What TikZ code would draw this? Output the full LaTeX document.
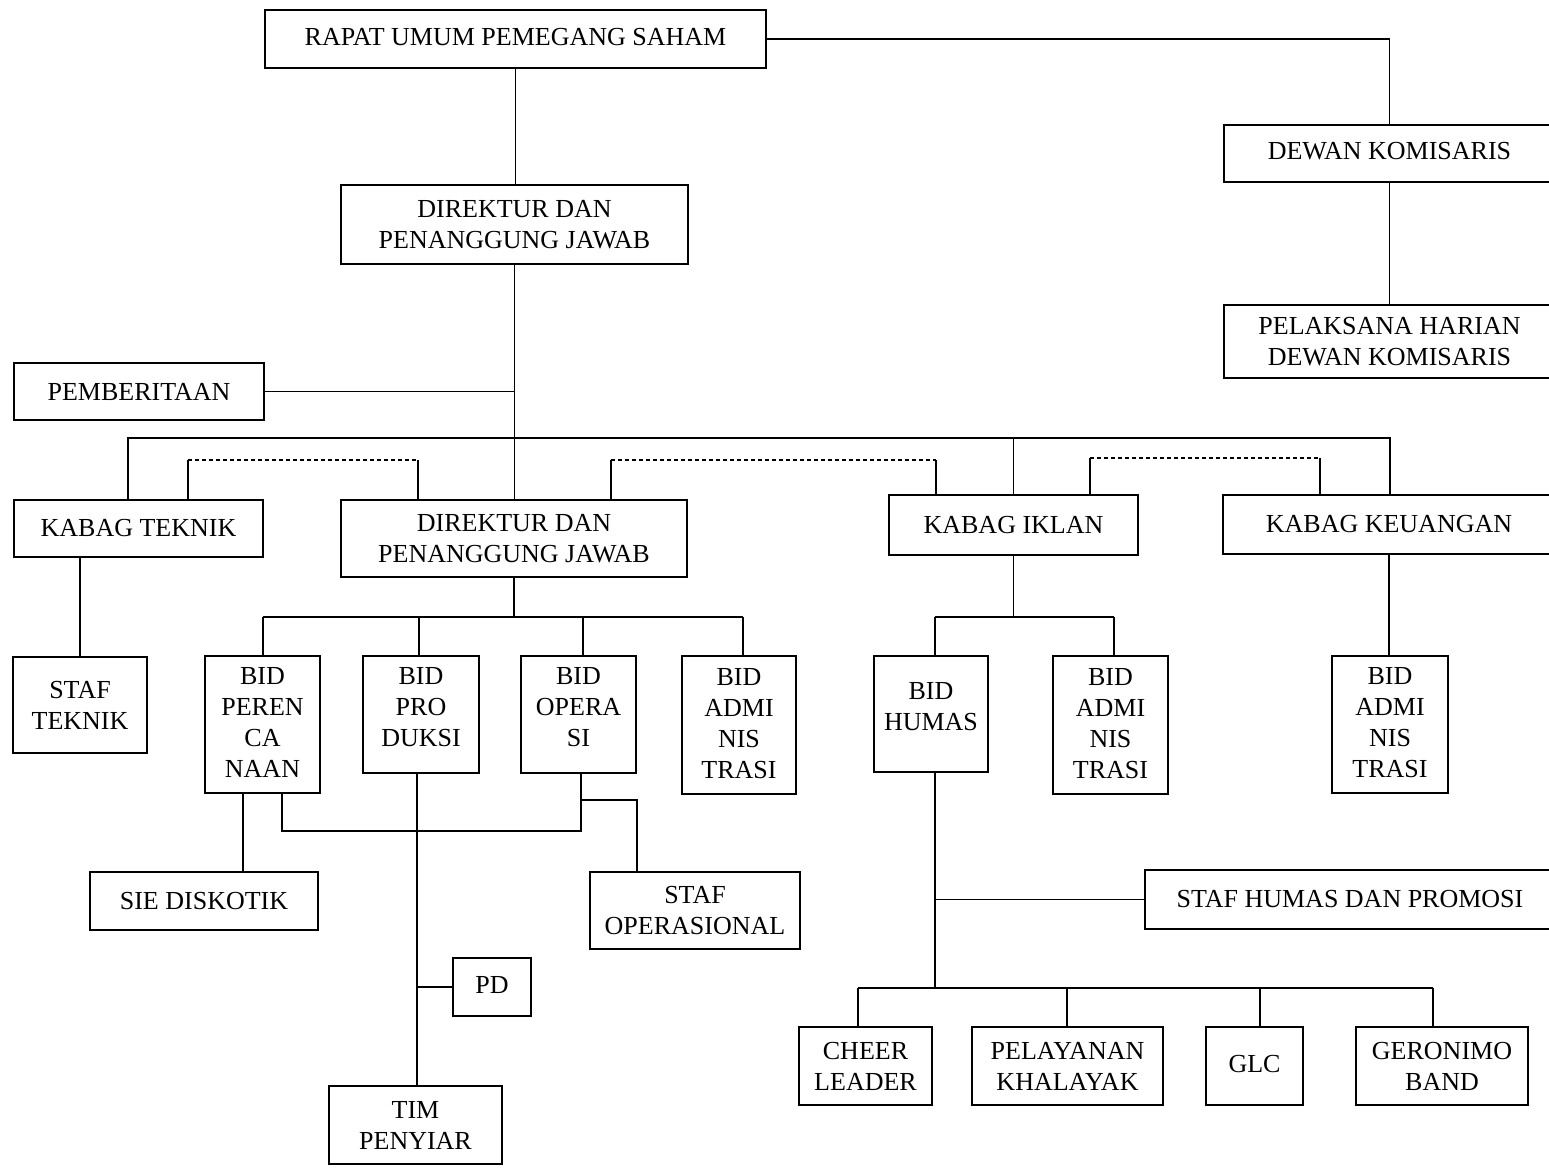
\documentclass[tikz,border=0pt]{standalone}
\usepackage{fontspec}
\setmainfont{Liberation Serif}
\newcommand{\orgfont}{\fontsize{26}{31}\selectfont}
\begin{document}
\begin{tikzpicture}[x=1pt,y=-1pt,
  box/.style={draw, line width=1.4pt, align=center, inner sep=0pt, font=\orgfont},
  raised/.style={text depth=16pt},
  link/.style={line width=1.1pt},
  dlink/.style={line width=1.1pt, dash pattern=on 4pt off 3pt}]
\useasboundingbox (0,0) rectangle (1549,1169);
% boxes
\node[box, minimum width=501, minimum height=58, text depth=4pt] (rups) at (515.5,39) {RAPAT UMUM PEMEGANG SAHAM};
\node[box, minimum width=331, minimum height=57, text depth=5pt] (dk) at (1389.5,153.5) {DEWAN KOMISARIS};
\node[box, minimum width=347, minimum height=79] (dir1) at (514.5,224.5) {DIREKTUR DAN\\PENANGGUNG JAWAB};
\node[box, minimum width=331, minimum height=73] (pel) at (1389.5,341.5) {PELAKSANA HARIAN\\DEWAN KOMISARIS};
\node[box, minimum width=250, minimum height=57] (pemb) at (139,391.5) {PEMBERITAAN};
\node[box, minimum width=249, minimum height=57] (kt) at (138.5,528.5) {KABAG TEKNIK};
\node[box, minimum width=346, minimum height=77] (dir2) at (514,538.5) {DIREKTUR DAN\\PENANGGUNG JAWAB};
\node[box, minimum width=249, minimum height=60] (ki) at (1013.5,525) {KABAG IKLAN};
\node[box, minimum width=332, minimum height=59] (kk) at (1389,524.5) {KABAG KEUANGAN};
\node[box, minimum width=134, minimum height=96] (st) at (80,705) {STAF\\TEKNIK};
\node[box, minimum width=115, minimum height=137, text depth=4pt] (bper) at (262.5,724.5) {BID\\PEREN\\CA\\NAAN};
\node[box, raised, minimum width=116, minimum height=117] (bpro) at (421,714.5) {BID\\PRO\\DUKSI};
\node[box, raised, minimum width=115, minimum height=117] (bop) at (578.5,714.5) {BID\\OPERA\\SI};
\node[box, minimum width=114, minimum height=138, text depth=4pt] (ba1) at (739,725) {BID\\ADMI\\NIS\\TRASI};
\node[box, raised, minimum width=114, minimum height=116] (bhum) at (931,714) {BID\\HUMAS};
\node[box, minimum width=115, minimum height=138, text depth=4pt] (ba2) at (1110.5,725) {BID\\ADMI\\NIS\\TRASI};
\node[box, minimum width=116, minimum height=137, text depth=4pt] (ba3) at (1390,724.5) {BID\\ADMI\\NIS\\TRASI};
\node[box, minimum width=228, minimum height=58] (sie) at (204,901) {SIE DISKOTIK};
\node[box, minimum width=210, minimum height=77] (sop) at (695,910.5) {STAF\\OPERASIONAL};
\node[box, minimum width=410, minimum height=59] (shp) at (1350,899.5) {STAF HUMAS DAN PROMOSI};
\node[box, minimum width=78, minimum height=58, text depth=4pt] (pd) at (492,987) {PD};
\node[box, minimum width=173, minimum height=78] (tim) at (415.5,1125) {TIM\\PENYIAR};
\node[box, minimum width=133, minimum height=78] (cl) at (865.5,1066) {CHEER\\LEADER};
\node[box, minimum width=191, minimum height=78] (pk) at (1067.5,1066) {PELAYANAN\\KHALAYAK};
\node[box, minimum width=97, minimum height=78, text depth=4pt] (glc) at (1254.5,1066) {GLC};
\node[box, minimum width=172, minimum height=78] (gb) at (1442,1066) {GERONIMO\\BAND};
% top connectors
\draw[link] (rups.east) -| (dk.north);
\draw[link] (rups.south) -- (rups.south |- dir1.north);
\draw[link] (dk.south) -- (pel.north);
\draw[link] (dir1.south) -- (dir1.south |- dir2.north);
\draw[link] (pemb.east) -- (pemb.east -| dir1.south);
% main bus
\coordinate (m1) at (128,438);
\coordinate (m2) at (1390,438);
\draw[link] (m1 |- kt.north) -- (m1) -- (m2) -- (m2 |- kk.north);
\draw[link] (ki.north) -- (ki.north |- m1);
% dashed links
\coordinate (d1a) at (188,460); \coordinate (d1b) at (418,460);
\draw[link] (d1a |- kt.north) -- (d1a);
\draw[dlink] (d1a) -- (d1b);
\draw[link] (d1b) -- (d1b |- dir2.north);
\coordinate (d2a) at (611,460); \coordinate (d2b) at (936,460);
\draw[link] (d2a |- dir2.north) -- (d2a);
\draw[dlink] (d2a) -- (d2b);
\draw[link] (d2b) -- (d2b |- ki.north);
\coordinate (d3a) at (1090,458); \coordinate (d3b) at (1320,458);
\draw[link] (d3a |- ki.north) -- (d3a);
\draw[dlink] (d3a) -- (d3b);
\draw[link] (d3b) -- (d3b |- kk.north);
% kabag teknik
\draw[link] (st.north |- kt.south) -- (st.north);
% direktur 2 bus
\coordinate (b0) at (514,617);
\coordinate (b1) at (263,617); \coordinate (b2) at (419,617);
\coordinate (b3) at (583,617); \coordinate (b4) at (743,617);
\draw[link] (dir2.south) -- (b0);
\draw[link] (b1) -- (b4);
\draw[link] (b1) -- (b1 |- bper.north);
\draw[link] (b2) -- (b2 |- bpro.north);
\draw[link] (b3) -- (b3 |- bop.north);
\draw[link] (b4) -- (b4 |- ba1.north);
% perencanaan / operasi
\coordinate (p1) at (243,800);
\draw[link] (p1 |- bper.south) -- (p1 |- sie.north);
\coordinate (p2) at (282,831); \coordinate (p3) at (581,831);
\draw[link] (p2 |- bper.south) -- (p2) -- (p3) -- (p3 |- bop.south);
\coordinate (p4) at (581,800); \coordinate (p5) at (637,800);
\draw[link] (p4) -- (p5) -- (p5 |- sop.north);
% produksi
\coordinate (p6) at (417,987);
\draw[link] (p6 |- bpro.south) -- (p6 |- tim.north);
\draw[link] (p6) -- (pd.west);
% kabag iklan
\coordinate (i0) at (1013.5,617);
\coordinate (i1) at (935,617); \coordinate (i2) at (1114,617);
\draw[link] (ki.south) -- (i0);
\draw[link] (i1) -- (i2);
\draw[link] (i1) -- (i1 |- bhum.north);
\draw[link] (i2) -- (i2 |- ba2.north);
% kabag keuangan
\draw[link] (kk.south) -- (kk.south |- ba3.north);
% humas
\coordinate (h0) at (935,988);
\draw[link] (h0 |- bhum.south) -- (h0);
\draw[link] (h0 |- shp.west) -- (shp.west);
\coordinate (h1) at (858,988); \coordinate (h2) at (1067,988);
\coordinate (h3) at (1260,988); \coordinate (h4) at (1433,988);
\draw[link] (h1) -- (h4);
\draw[link] (h1) -- (h1 |- cl.north);
\draw[link] (h2) -- (h2 |- pk.north);
\draw[link] (h3) -- (h3 |- glc.north);
\draw[link] (h4) -- (h4 |- gb.north);
\end{tikzpicture}
\end{document}
